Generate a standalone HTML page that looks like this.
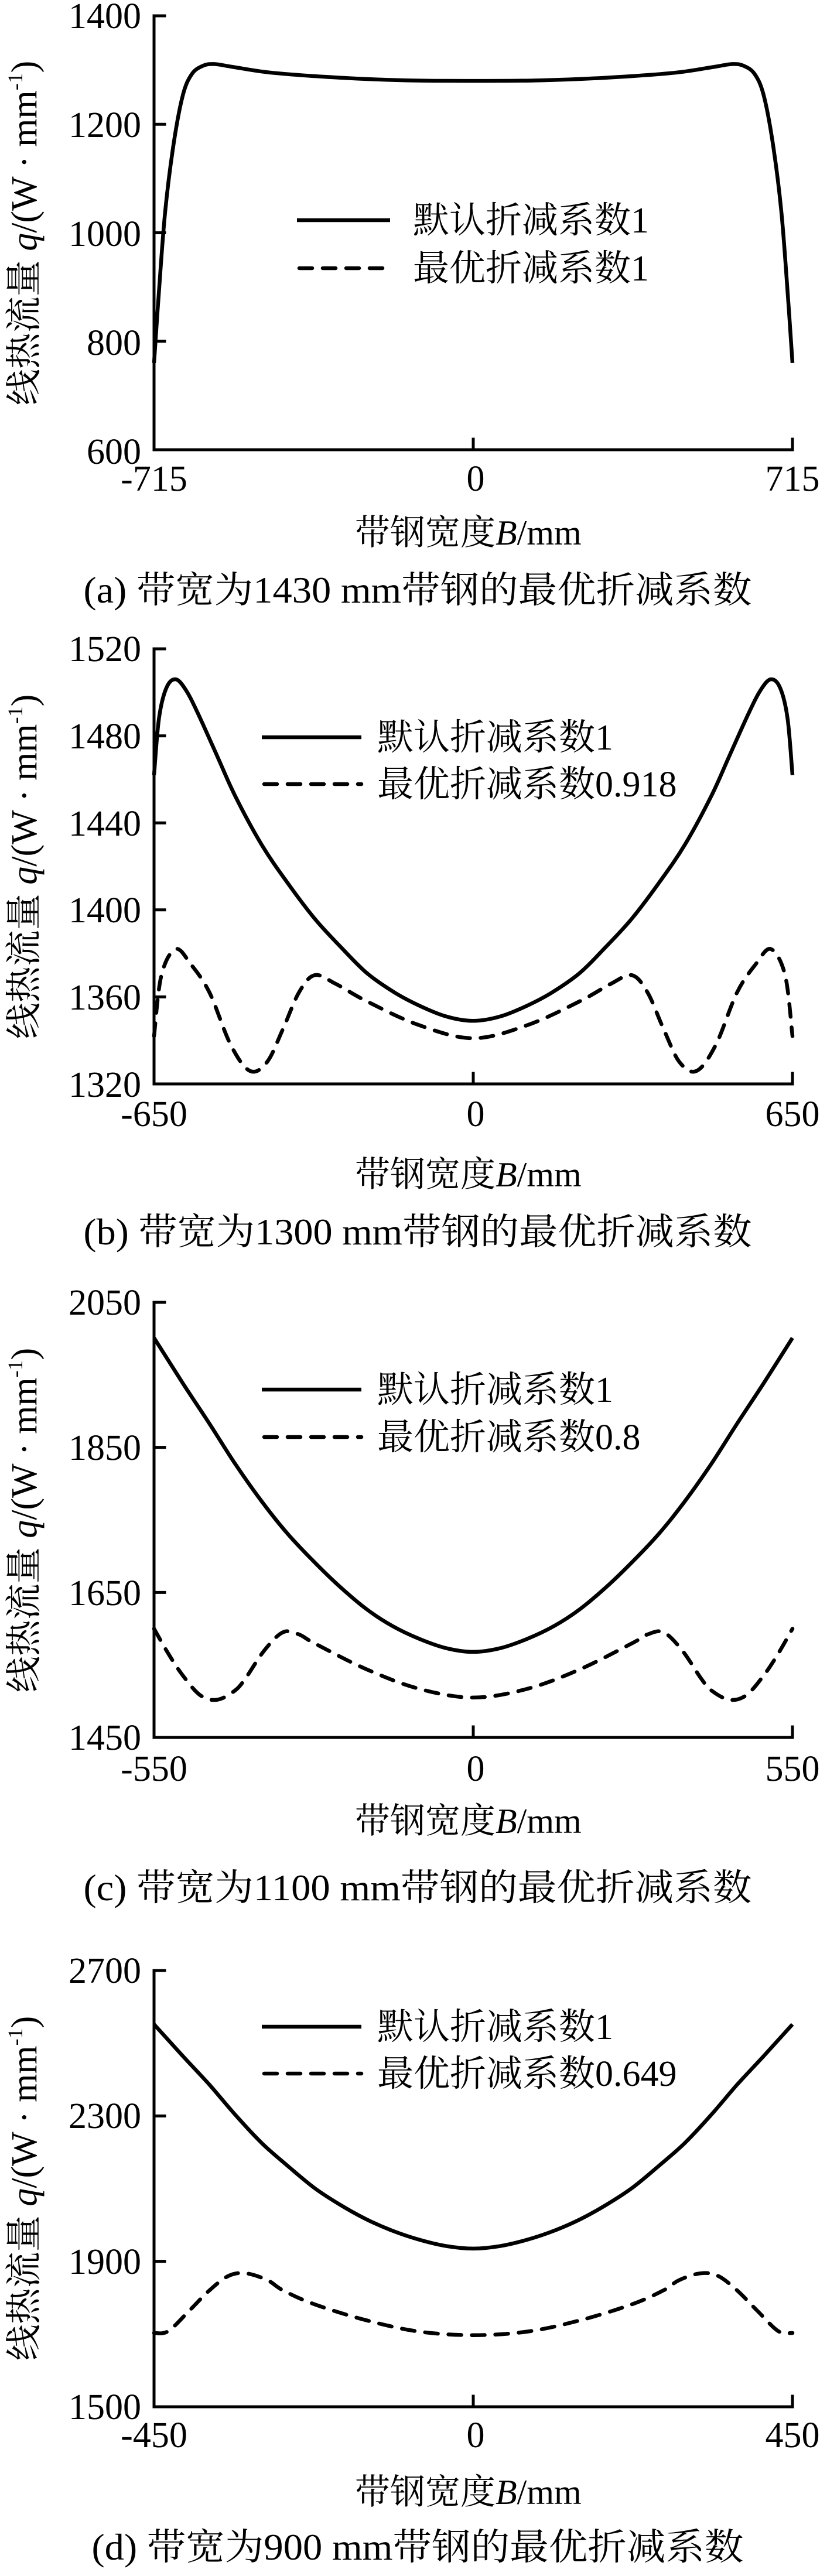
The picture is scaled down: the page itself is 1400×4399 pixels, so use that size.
<!DOCTYPE html>
<html><head><meta charset="utf-8"><style>
html,body{margin:0;padding:0;background:#fff;}
svg{display:block;}
text{font-family:"Liberation Serif","Noto Serif CJK SC","Noto Sans CJK SC",serif;fill:#000;}
</style></head><body>
<svg id="s" width="1400" height="4399" viewBox="0 0 1400 4399" xmlns="http://www.w3.org/2000/svg">
<g id="curves" fill="none" stroke="#000" stroke-width="6.5" stroke-linejoin="round"></g>
<g id="axes" fill="none" stroke="#000" stroke-width="5" stroke-linecap="square"></g>

<!-- Panel a -->
<g font-size="62" text-anchor="end">
<text x="241" y="48">1400</text><text x="241" y="234">1200</text><text x="241" y="420">1000</text><text x="241" y="606">800</text><text x="241" y="792">600</text>
</g>
<g font-size="62" text-anchor="middle">
<text x="263" y="838">-715</text><text x="812" y="838">0</text><text x="1353" y="838">715</text>
</g>
<text x="606" y="930" font-size="60">带钢宽度<tspan font-style="italic">B</tspan>/mm</text>
<text x="713" y="1029" font-size="63" text-anchor="middle" textLength="1141" lengthAdjust="spacingAndGlyphs">(a) 带宽为1430 mm带钢的最优折减系数</text>
<text transform="translate(62,398) rotate(-90)" font-size="62" text-anchor="middle">线热流量 <tspan font-style="italic">q</tspan>/(W · mm<tspan font-size="36" dy="-24">-1</tspan><tspan dy="24">)</tspan></text>
<text x="705" y="397" font-size="62">默认折减系数1</text>
<text x="705" y="479" font-size="62">最优折减系数1</text>

<!-- Panel b -->
<g font-size="62" text-anchor="end">
<text x="241" y="1129">1520</text><text x="241" y="1278">1480</text><text x="241" y="1427">1440</text><text x="241" y="1575">1400</text><text x="241" y="1724">1360</text><text x="241" y="1873">1320</text>
</g>
<g font-size="62" text-anchor="middle">
<text x="263" y="1923">-650</text><text x="812" y="1923">0</text><text x="1353" y="1923">650</text>
</g>
<text x="606" y="2026" font-size="60">带钢宽度<tspan font-style="italic">B</tspan>/mm</text>
<text x="713" y="2125" font-size="63" text-anchor="middle" textLength="1141" lengthAdjust="spacingAndGlyphs">(b) 带宽为1300 mm带钢的最优折减系数</text>
<text transform="translate(62,1480) rotate(-90)" font-size="62" text-anchor="middle">线热流量 <tspan font-style="italic">q</tspan>/(W · mm<tspan font-size="36" dy="-24">-1</tspan><tspan dy="24">)</tspan></text>
<text x="644" y="1280" font-size="62">默认折减系数1</text>
<text x="644" y="1360" font-size="62">最优折减系数0.918</text>

<!-- Panel c -->
<g font-size="62" text-anchor="end">
<text x="241" y="2245">2050</text><text x="241" y="2493">1850</text><text x="241" y="2741">1650</text><text x="241" y="2988">1450</text>
</g>
<g font-size="62" text-anchor="middle">
<text x="263" y="3041">-550</text><text x="812" y="3041">0</text><text x="1353" y="3041">550</text>
</g>
<text x="606" y="3130" font-size="60">带钢宽度<tspan font-style="italic">B</tspan>/mm</text>
<text x="713" y="3245" font-size="63" text-anchor="middle" textLength="1141" lengthAdjust="spacingAndGlyphs">(c) 带宽为1100 mm带钢的最优折减系数</text>
<text transform="translate(62,2596) rotate(-90)" font-size="62" text-anchor="middle">线热流量 <tspan font-style="italic">q</tspan>/(W · mm<tspan font-size="36" dy="-24">-1</tspan><tspan dy="24">)</tspan></text>
<text x="644" y="2394" font-size="62">默认折减系数1</text>
<text x="644" y="2475" font-size="62">最优折减系数0.8</text>

<!-- Panel d -->
<g font-size="62" text-anchor="end">
<text x="241" y="3386">2700</text><text x="241" y="3634">2300</text><text x="241" y="3883">1900</text><text x="241" y="4131">1500</text>
</g>
<g font-size="62" text-anchor="middle">
<text x="263" y="4179">-450</text><text x="812" y="4179">0</text><text x="1353" y="4179">450</text>
</g>
<text x="606" y="4276" font-size="60">带钢宽度<tspan font-style="italic">B</tspan>/mm</text>
<text x="713" y="4371" font-size="63" text-anchor="middle" textLength="1113" lengthAdjust="spacingAndGlyphs">(d) 带宽为900 mm带钢的最优折减系数</text>
<text transform="translate(62,3737) rotate(-90)" font-size="62" text-anchor="middle">线热流量 <tspan font-style="italic">q</tspan>/(W · mm<tspan font-size="36" dy="-24">-1</tspan><tspan dy="24">)</tspan></text>
<text x="644" y="3482" font-size="62">默认折减系数1</text>
<text x="644" y="3562" font-size="62">最优折减系数0.649</text>
</svg>
<script>
(function(){
var NS="http://www.w3.org/2000/svg";
var L=263,R=1353;
var panels=[
 {top:27,bot:768,xr:715,y0:600,y1:1400,ticks:[600,800,1000,1200,1400],leg:[507,666,376,458],
  series:[
   {dash:false,pts:[[-715,760],[-705,880],[-690,1040],[-670,1170],[-650,1255],[-630,1293],[-605,1308],[-580,1311],[-540,1306],[-450,1295],[-300,1286],[-150,1281],[0,1280]]}
  ]},
 {top:1108,bot:1851,xr:650,y0:1320,y1:1520,ticks:[1320,1360,1400,1440,1480,1520],leg:[447,617,1259,1339],
  series:[
   {dash:false,pts:[[-650,1462],[-640,1488],[-625,1502],[-606,1506],[-585,1501],[-560,1490],[-520,1470],[-484,1452],[-431,1430],[-380,1413],[-323,1396],[-270,1383],[-217,1371],[-160,1362],[-110,1356],[-55,1351],[0,1349]]},
   {dash:true,pts:[[-650,1342],[-635,1370],[-606,1382],[-575,1375],[-537,1362],[-494,1338],[-455,1326],[-420,1330],[-388,1345],[-355,1362],[-323,1370],[-280,1366],[-217,1358],[-110,1347],[0,1341]]}
  ]},
 {top:2224,bot:2967,xr:550,y0:1450,y1:2050,ticks:[1450,1650,1850,2050],leg:[447,617,2373,2454],
  series:[
   {dash:false,pts:[[-550,2001],[-500,1938],[-454,1882],[-410,1827],[-364,1775],[-320,1731],[-274,1692],[-230,1658],[-184,1627],[-140,1604],[-93,1586],[-46,1573],[0,1568]]},
   {dash:true,pts:[[-550,1600],[-525,1565],[-500,1535],[-470,1508],[-441,1502],[-410,1515],[-392,1532],[-360,1570],[-328,1595],[-300,1592],[-274,1580],[-184,1544],[-93,1517],[0,1505]]}
  ]},
 {top:3365,bot:4110,xr:450,y0:1500,y1:2700,ticks:[1500,1900,2300,2700],leg:[447,617,3461,3541],
  series:[
   {dash:false,pts:[[-450,2552],[-410,2466],[-372,2386],[-335,2302],[-298,2225],[-260,2160],[-224,2102],[-188,2056],[-151,2016],[-115,1985],[-77,1960],[-38,1942],[0,1935]]},
   {dash:true,pts:[[-450,1703],[-430,1708],[-400,1765],[-372,1820],[-345,1860],[-320,1867],[-290,1848],[-268,1820],[-224,1782],[-151,1738],[-77,1707],[0,1697]]}
  ]}
];
var cg=document.getElementById("curves"),ag=document.getElementById("axes");
function el(n,a,p){var e=document.createElementNS(NS,n);for(var k in a)e.setAttribute(k,a[k]);p.appendChild(e);return e;}
function cr(P){
 var d="M"+P[0][0].toFixed(1)+","+P[0][1].toFixed(1);
 for(var i=0;i<P.length-1;i++){
  var p0=P[i-1]||P[i],p1=P[i],p2=P[i+1],p3=P[i+2]||P[i+1];
  var c1=[p1[0]+(p2[0]-p0[0])/6,p1[1]+(p2[1]-p0[1])/6];
  var c2=[p2[0]-(p3[0]-p1[0])/6,p2[1]-(p3[1]-p1[1])/6];
  d+=" C"+c1[0].toFixed(1)+","+c1[1].toFixed(1)+" "+c2[0].toFixed(1)+","+c2[1].toFixed(1)+" "+p2[0].toFixed(1)+","+p2[1].toFixed(1);
 }
 return d;
}
panels.forEach(function(p){
 var sx=function(x){return L+(x+p.xr)/(2*p.xr)*(R-L);};
 var sy=function(v){return p.bot-(v-p.y0)/(p.y1-p.y0)*(p.bot-p.top);};
 el("path",{d:"M"+L+","+p.top+" L"+L+","+p.bot+" L"+R+","+p.bot},ag);
 p.ticks.forEach(function(t){var y=sy(t);el("line",{x1:L,y1:y,x2:L+18,y2:y},ag);});
 el("line",{x1:(L+R)/2,y1:p.bot,x2:(L+R)/2,y2:p.bot-18},ag);
 el("line",{x1:R,y1:p.bot,x2:R,y2:p.bot-18},ag);
 p.series.forEach(function(s){
  var left=s.pts.map(function(q){return q.slice();});
  var right=left.slice(0,-1).reverse().map(function(q){return [-q[0],q[1]];});
  var all=left.concat(right).map(function(q){return [sx(q[0]),sy(q[1])];});
  var a={d:cr(all)};
  if(s.dash){a["stroke-dasharray"]="22 18";a["stroke-linecap"]="round";}
  el("path",a,cg);
 });
 var g=p.leg;
 el("line",{x1:g[0],y1:g[2],x2:g[1],y2:g[2]},cg);
 el("line",{x1:g[0]+4,y1:g[3],x2:g[1],y2:g[3],"stroke-dasharray":"22 18","stroke-linecap":"round"},cg);
});
})();
</script>
</body></html>
